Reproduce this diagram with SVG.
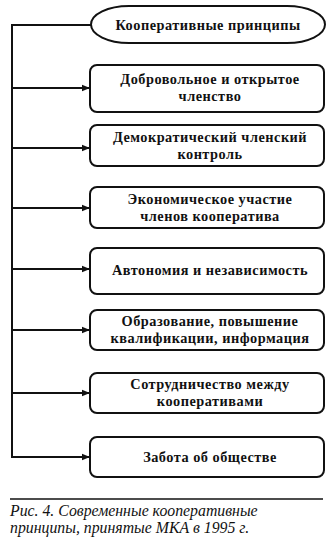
<svg xmlns="http://www.w3.org/2000/svg" width="332" height="550" viewBox="0 0 332 550">
<defs>
<style>
.box{fill:#fff;stroke:#111;stroke-width:2}
.t{font-family:"Liberation Serif","Times New Roman",serif;font-weight:bold;font-size:14.3px;fill:#111;text-anchor:middle;letter-spacing:0.5px}
.ln{fill:none;stroke:#111;stroke-width:2}
.cap{font-family:"Liberation Serif","Times New Roman",serif;font-style:italic;font-size:15.8px;fill:#111}
</style>
<marker id="ah" viewBox="0 0 10 10" refX="10" refY="5" markerWidth="10" markerHeight="8" markerUnits="userSpaceOnUse" orient="auto">
<path d="M0,1 L10,5 L0,9 z" fill="#111"/>
</marker>
</defs>
<rect width="332" height="550" fill="#fff"/>
<g id="connectors">
<polyline class="ln" points="91,25 12,25 12,458"/>
<line class="ln" x1="12" y1="88" x2="90" y2="88" marker-end="url(#ah)"/>
<line class="ln" x1="12" y1="148" x2="90" y2="148" marker-end="url(#ah)"/>
<line class="ln" x1="12" y1="208" x2="90" y2="208" marker-end="url(#ah)"/>
<line class="ln" x1="12" y1="269" x2="90" y2="269" marker-end="url(#ah)"/>
<line class="ln" x1="12" y1="330" x2="90" y2="330" marker-end="url(#ah)"/>
<line class="ln" x1="12" y1="393" x2="90" y2="393" marker-end="url(#ah)"/>
<line class="ln" x1="12" y1="457" x2="90" y2="457" marker-end="url(#ah)"/>
</g>
<g id="root">
<rect class="box" x="91" y="6" width="234" height="37" rx="38" ry="18.5"/>
<text class="t" x="208" y="29.5">Кооперативные принципы</text>
</g>
<g id="n1">
<rect class="box" x="90" y="65" width="234" height="47" rx="7"/>
<text class="t" x="210" y="84">Добровольное и открытое</text>
<text class="t" x="210" y="101">членство</text>
</g>
<g id="n2">
<rect class="box" x="90" y="125" width="234" height="41" rx="7"/>
<text class="t" x="210" y="142">Демократический членский</text>
<text class="t" x="210" y="159">контроль</text>
</g>
<g id="n3">
<rect class="box" x="90" y="187" width="234" height="41" rx="7"/>
<text class="t" x="210" y="204">Экономическое участие</text>
<text class="t" x="210" y="221">членов кооператива</text>
</g>
<g id="n4">
<rect class="box" x="90" y="248" width="234" height="46" rx="7"/>
<text class="t" x="210" y="275">Автономия и независимость</text>
</g>
<g id="n5">
<rect class="box" x="90" y="310" width="234" height="40" rx="7"/>
<text class="t" x="210" y="326">Образование, повышение</text>
<text class="t" x="210" y="343">квалификации, информация</text>
</g>
<g id="n6">
<rect class="box" x="90" y="373" width="234" height="40" rx="7"/>
<text class="t" x="210" y="389">Сотрудничество между</text>
<text class="t" x="210" y="406">кооперативами</text>
</g>
<g id="n7">
<rect class="box" x="90" y="437" width="234" height="40" rx="7"/>
<text class="t" x="210" y="462">Забота об обществе</text>
</g>
<g id="caption">
<line x1="10" y1="499" x2="323" y2="499" stroke="#111" stroke-width="1.5"/>
<text class="cap" x="10" y="516">Рис. 4. Современные кооперативные</text>
<text class="cap" x="10" y="533">принципы, принятые МКА в 1995 г.</text>
</g>
</svg>
